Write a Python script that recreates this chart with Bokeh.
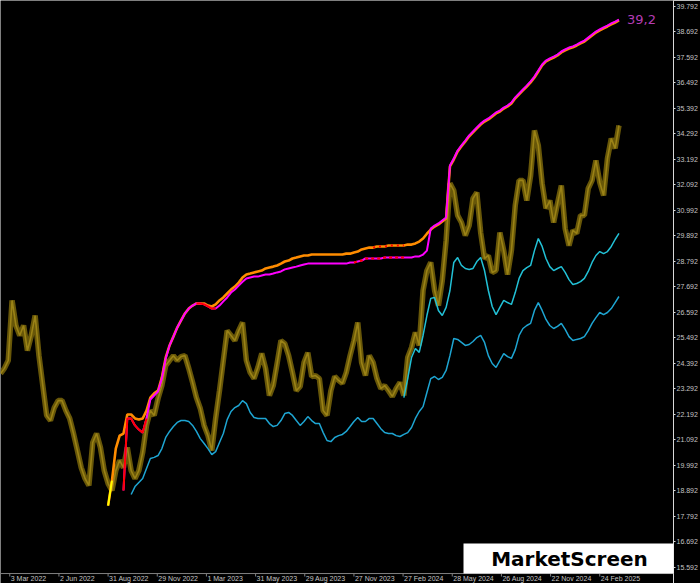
import numpy as np
from bokeh.plotting import figure
from bokeh.models import (Range1d, FixedTicker, PrintfTickFormatter, Label,
                          BoxAnnotation, Span)
from bokeh.core.properties import value
from bokeh.embed import file_html
from bokeh.resources import INLINE

# ---------------- data (weekly samples; x = daily bar index) ----------------
FIRST_BAR = -12
BAR_STEP = 5

price = [
    23.96, 24.18, 24.52, 27.11, 26.03, 25.60, 26.03, 24.95, 25.60, 26.46,
    24.73, 23.44, 22.15, 21.93, 22.49, 22.79, 22.79, 22.36, 22.02, 21.37,
    20.64, 19.90, 19.43, 19.13, 20.98, 21.37, 20.77, 19.77, 19.21, 18.91,
    19.77, 20.21, 19.90, 20.77, 19.77, 19.43, 19.77, 20.55, 21.72, 22.36,
    22.15, 22.88, 23.44, 24.30, 24.52, 24.73, 24.52, 24.69, 24.73, 24.18,
    23.57, 22.92, 22.45, 21.72, 21.28, 20.64, 22.02, 23.22, 24.52, 25.81,
    25.60, 25.38, 25.81, 26.16, 24.52, 24.00, 23.74, 24.22, 24.82, 24.18,
    23.01, 23.44, 24.39, 25.38, 25.25, 24.73, 24.00, 23.22, 23.40, 24.43,
    24.86, 23.83, 23.87, 23.74, 22.36, 22.15, 23.22, 23.83, 23.66, 23.53,
    24.00, 24.73, 25.38, 26.16, 24.43, 23.87, 24.73, 24.43, 23.74, 23.31,
    23.44, 23.22, 22.97, 23.31, 23.57, 23.01, 24.65, 25.08, 25.73, 25.17,
    27.54, 28.40, 28.75, 27.54, 26.89, 27.97, 29.70, 32.16, 31.85, 30.78,
    30.47, 29.91, 30.34, 31.51, 31.77, 30.04, 28.92, 29.05, 28.32, 28.40,
    30.04, 29.26, 28.23, 29.26, 31.21, 32.29, 32.29, 31.42, 32.50, 34.44,
    33.80, 32.16, 31.08, 31.42, 30.47, 31.29, 32.07, 30.21, 29.48, 30.13,
    30.00, 30.78, 30.78, 31.94, 32.29, 33.15, 32.20, 31.64, 33.23, 34.10,
    33.67, 34.66,
]

orange_start = 28
orange = [
    18.26, 19.34, 20.72, 21.28, 21.37, 22.19, 22.19, 22.02, 21.97, 22.02,
    22.36, 22.92, 23.10, 23.22, 23.79, 24.65, 25.17, 25.55, 25.94, 26.25,
    26.55, 26.76, 26.89, 26.98, 26.98, 26.98, 26.89, 26.85, 26.94, 27.11,
    27.24, 27.41, 27.58, 27.71, 27.88, 28.10, 28.23, 28.27, 28.32, 28.36,
    28.40, 28.49, 28.53, 28.57, 28.62, 28.70, 28.79, 28.83, 28.92, 28.96,
    29.01, 29.05, 29.05, 29.09, 29.09, 29.09, 29.09, 29.09, 29.09, 29.09,
    29.09, 29.09, 29.13, 29.13, 29.18, 29.22, 29.31, 29.35, 29.39, 29.39,
    29.44, 29.44, 29.44, 29.48, 29.48, 29.48, 29.48, 29.48, 29.52, 29.52,
    29.57, 29.65, 29.78, 29.99, 30.17, 30.30, 30.39, 30.52, 30.65, 32.89,
    33.19, 33.54, 33.76, 33.97, 34.19, 34.36, 34.53, 34.70, 34.83, 34.92,
    35.05, 35.18, 35.26, 35.39, 35.48, 35.61, 35.83, 36.00, 36.17, 36.34,
    36.52, 36.73, 36.99, 37.25, 37.42, 37.51, 37.59, 37.68, 37.81, 37.90,
    37.98, 38.03, 38.11, 38.20, 38.28, 38.41, 38.54, 38.67, 38.76, 38.85,
    38.93, 39.02, 39.10, 39.19,
]

magenta_start = 32
magenta = [
    18.91, 22.02, 22.02, 21.72, 21.54, 21.41, 22.02, 22.84, 23.01, 23.18,
    23.74, 24.61, 25.17, 25.55, 25.94, 26.25, 26.55, 26.76, 26.89, 26.98,
    26.98, 26.94, 26.85, 26.76, 26.76, 26.89, 27.07, 27.24, 27.45, 27.58,
    27.75, 27.92, 28.06, 28.10, 28.14, 28.14, 28.19, 28.23, 28.23, 28.27,
    28.32, 28.36, 28.45, 28.49, 28.53, 28.57, 28.62, 28.66, 28.70, 28.70,
    28.70, 28.70, 28.70, 28.70, 28.70, 28.70, 28.70, 28.70, 28.70, 28.75,
    28.75, 28.79, 28.83, 28.92, 28.92, 28.92, 28.92, 28.92, 28.96, 28.96,
    28.96, 28.96, 28.96, 28.96, 28.96, 28.96, 29.01, 29.01, 29.09, 29.26,
    30.21, 30.34, 30.43, 30.56, 30.69, 32.93, 33.23, 33.58, 33.80, 34.01,
    34.23, 34.40, 34.57, 34.74, 34.87, 34.96, 35.09, 35.22, 35.30, 35.43,
    35.52, 35.65, 35.87, 36.04, 36.21, 36.38, 36.56, 36.77, 37.03, 37.29,
    37.46, 37.55, 37.63, 37.72, 37.85, 37.94, 38.02, 38.07, 38.15, 38.24,
    38.32, 38.45, 38.58, 38.71, 38.80, 38.89, 38.97, 39.06, 39.14, 39.23,
]

cyan_low_start = 34
cyan_low = [
    18.74, 19.08, 19.26, 19.43, 19.86, 20.29, 20.34, 20.42, 20.72, 21.20,
    21.46, 21.67, 21.85, 21.93, 21.93, 21.89, 21.72, 21.46, 21.15, 20.94,
    20.72, 20.46, 20.59, 20.98, 21.37, 21.97, 22.32, 22.49, 22.58, 22.79,
    22.66, 22.28, 22.06, 22.02, 22.02, 22.02, 21.80, 21.67, 21.72, 21.93,
    22.23, 22.28, 22.15, 21.93, 21.72, 21.89, 22.10, 21.93, 21.80, 21.80,
    21.41, 21.07, 21.02, 21.20, 21.28, 21.33, 21.46, 21.67, 21.89, 22.06,
    21.89, 21.89, 22.02, 22.02, 21.80, 21.58, 21.41, 21.37, 21.37, 21.28,
    21.24, 21.33, 21.41, 21.63, 22.02, 22.32, 22.53, 23.14, 23.74, 23.83,
    23.70, 23.79, 24.09, 24.73, 25.47, 25.43, 25.30, 25.17, 25.21, 25.34,
    25.51, 25.60, 25.30, 24.73, 24.39, 24.22, 24.52, 24.82, 24.69, 24.61,
    24.99, 25.60, 25.90, 26.03, 26.12, 26.68, 27.02, 26.68, 26.29, 26.03,
    25.90, 25.99, 26.12, 25.86, 25.55, 25.38, 25.43, 25.47, 25.55, 25.81,
    26.12, 26.37, 26.59, 26.50, 26.59, 26.76, 27.02, 27.28,
]

cyan_high_start = 105
cyan_high = [
    22.92, 23.74, 24.65, 25.04, 24.87, 25.60, 26.46, 27.20, 27.24, 26.68,
    26.46, 26.81, 27.54, 28.75, 28.96, 28.62, 28.49, 28.45, 28.49, 28.79,
    28.96, 28.40, 27.54, 26.85, 26.50, 26.81, 27.11, 27.02, 26.94, 27.45,
    28.06, 28.40, 28.53, 28.62, 29.26, 29.78, 29.44, 28.92, 28.57, 28.40,
    28.49, 28.57, 28.32, 28.01, 27.80, 27.84, 27.92, 28.06, 28.36, 28.75,
    29.05, 29.22, 29.13, 29.22, 29.44, 29.74, 30.00,
]

# colour-state spans (sample indices) of the envelope lines
magenta_red_spans = [(32, 38), (51, 56)]
magenta_dotted_spans = [(92, 105)]
orange_dotted_spans = [(97, 105)]
orange_yellow_spans = [(28, 29)]

last_label = "39,2"

tick_bars = [0, 64, 128, 192, 256, 320, 384, 448, 512, 576, 640, 704, 768]
tick_labels = ["3 Mar 2022", "2 Jun 2022", "31 Aug 2022", "29 Nov 2022",
               "1 Mar 2023", "31 May 2023", "29 Aug 2023", "27 Nov 2023",
               "27 Feb 2024", "28 May 2024", "26 Aug 2024", "22 Nov 2024",
               "24 Feb 2025"]
y_ticks = [15.592, 16.692, 17.792, 18.892, 19.992, 21.092, 22.192, 23.292,
           24.392, 25.492, 26.592, 27.692, 28.792, 29.892, 30.992, 32.092,
           33.192, 34.292, 35.392, 36.492, 37.592, 38.692, 39.792]

# ---------------------------------------------------------------------------
# layout constants (price-axis units): time axis line sits 10 px above the
# bottom of the canvas; date labels are drawn below it, MT4 style.
Y_BOTTOM = 14.90
Y_TOP = 40.05
AXIS_Y = 15.33
TICK_LEN = 0.13
LABEL_Y = 15.26

bars = FIRST_BAR + BAR_STEP * np.arange(len(price))


def xs(start, vals):
    return bars[start:start + len(vals)]


p = figure(width=700, height=583, output_backend="svg", toolbar_location=None,
           x_range=Range1d(-12.07, 864.0), y_range=Range1d(Y_BOTTOM, Y_TOP),
           y_axis_location="right",
           min_border_left=0, min_border_top=0, min_border_right=0,
           min_border_bottom=0)
p.background_fill_color = "black"
p.border_fill_color = "black"
p.outline_line_color = None
p.xgrid.visible = False
p.ygrid.visible = False
p.xaxis.visible = False

label_font = "Liberation Sans"
label_color = "#c4c4c4"

ya = p.yaxis[0]
ya.ticker = FixedTicker(ticks=y_ticks)
ya.formatter = PrintfTickFormatter(format="%.3f")
ya.major_label_text_font = label_font
ya.major_label_text_font_size = "7px"
ya.major_label_text_color = label_color
ya.major_label_standoff = 1
ya.axis_line_color = "#d8d8d8"
ya.major_tick_line_color = "#d8d8d8"
ya.major_tick_out = 2
ya.major_tick_in = 0
ya.minor_tick_out = 0
ya.minor_tick_in = 0

# time axis: line, tick marks and left-aligned date labels
p.add_layout(Span(location=AXIS_Y, dimension="width", line_color="#808080",
                  line_width=1))
p.segment(x0=tick_bars, y0=[AXIS_Y] * len(tick_bars), x1=tick_bars,
          y1=[AXIS_Y - TICK_LEN] * len(tick_bars), line_color="#808080",
          line_width=1)
p.text(x=tick_bars, y=[LABEL_Y] * len(tick_bars), text=tick_labels,
       x_offset=1, text_align="left", text_baseline="top",
       text_font=value(label_font), text_font_size="7px",
       text_color=label_color)

# price (bar-like band)
p.line(bars, price, line_color="#7a6609", line_width=5.5, line_alpha=0.85)
p.line(bars, price, line_color="#9a8216", line_width=1.6)

# lower bands
p.line(xs(cyan_low_start, cyan_low), cyan_low, line_color="#1ea5d2",
       line_width=1.5)
p.line(xs(cyan_high_start, cyan_high), cyan_high, line_color="#22c1d6",
       line_width=1.5)

# upper envelope
ox = xs(orange_start, orange)
mx = xs(magenta_start, magenta)
p.line(ox, orange, line_color="#ff8c00", line_width=2.6)
for a, b in orange_yellow_spans:
    i0, i1 = a - orange_start, b - orange_start + 1
    p.line(ox[i0:i1], orange[i0:i1], line_color="#ffff00", line_width=2)
for a, b in orange_dotted_spans:
    i0, i1 = a - orange_start, b - orange_start + 1
    p.line(ox[i0:i1], orange[i0:i1], line_color="#ff0000", line_width=2,
           line_dash="2 4")
p.line(mx, magenta, line_color="#ff00ff", line_width=2)
for a, b in magenta_red_spans:
    i0, i1 = a - magenta_start, b - magenta_start + 1
    p.line(mx[i0:i1], magenta[i0:i1], line_color="#ff0000", line_width=2)
for a, b in magenta_dotted_spans:
    i0, i1 = a - magenta_start, b - magenta_start + 1
    p.line(mx[i0:i1], magenta[i0:i1], line_color="#ff0000", line_width=2,
           line_dash="3 3")

p.add_layout(Label(x=mx[-1], y=magenta[-1], text=last_label, x_offset=8,
                   text_baseline="middle", text_align="left",
                   text_font="DejaVu Sans", text_font_size="13px",
                   text_color="#b43cb4"))

# logo box (sits on the time axis line)
p.add_layout(BoxAnnotation(left=463, right=680, bottom=10, top=40,
                           left_units="screen", right_units="screen",
                           bottom_units="screen", top_units="screen",
                           fill_color="white", fill_alpha=1.0,
                           line_color=None, level="overlay"))
p.add_layout(Label(x=569, y=25, x_units="screen", y_units="screen",
                   text="MarketScreen", text_align="center",
                   text_baseline="middle", text_font="DejaVu Sans",
                   text_font_style="bold", text_font_size="20px",
                   text_color="black", level="overlay"))

open("out.html", "w").write(file_html(p, INLINE))
